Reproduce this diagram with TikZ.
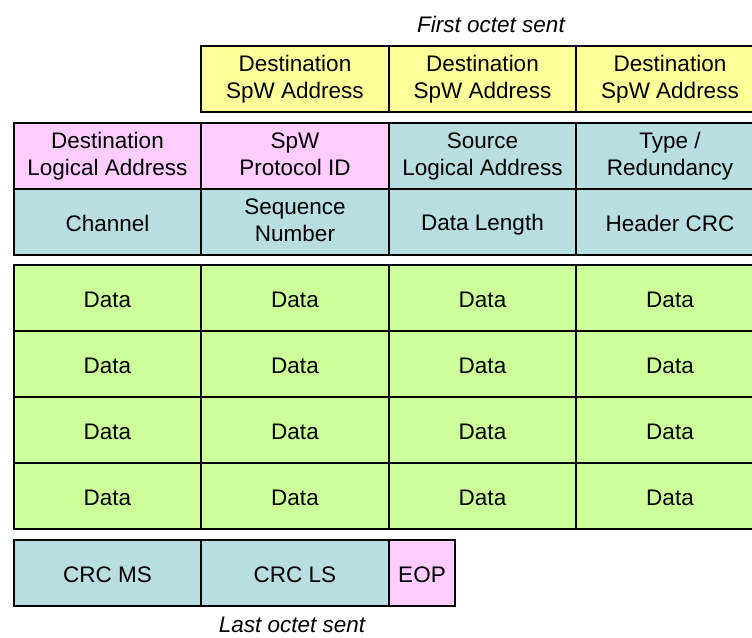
\documentclass[tikz,border=0pt]{standalone}
\usepackage{fontspec}
\setmainfont{Liberation Sans}
\definecolor{addrYellow}{HTML}{FFFF99}
\definecolor{ctrlPink}{HTML}{FFCCFF}
\definecolor{hdrBlue}{HTML}{B9DEE2}
\definecolor{dataGreen}{HTML}{CCFF99}
% invisible rule that centres the capitals of each cell's text
\newcommand{\cellstrut}{\rule[-4pt]{0pt}{26pt}}
\tikzset{
  cell/.style={draw=black, line width=2pt, inner sep=0pt, outer sep=0pt,
    minimum width=187.5pt, minimum height=66pt, align=center,
    font=\fontsize{22.5}{27}\selectfont,
    execute at begin node=\cellstrut, execute at end node=\cellstrut},
  addr/.style={cell, fill=addrYellow},
  ctrl/.style={cell, fill=ctrlPink},
  hdr/.style={cell, fill=hdrBlue},
  datacell/.style={cell, fill=dataGreen},
  note/.style={font=\fontsize{22.5}{27}\selectfont\itshape, inner sep=0pt}
}
\begin{document}
\begin{tikzpicture}[x=1pt, y=-1pt]
\useasboundingbox (0,0) rectangle (752,637);
\clip (0,0) rectangle (752,637);

% first octet label
\node[note] (first) at (491,24) {First octet sent};

% destination SpaceWire addresses
\node[addr] (a2) at (295,79) {Destination\\SpW Address};
\node[addr] (a3) at (482.5,79) {Destination\\SpW Address};
\node[addr] (a4) at (670,79) {Destination\\SpW Address};

% packet header
\node[ctrl] (h1) at (107.5,156) {Destination\\Logical Address};
\node[ctrl] (h2) at (295,156) {SpW\\Protocol ID};
\node[hdr]  (h3) at (482.5,156) {Source\\Logical Address};
\node[hdr]  (h4) at (670,156) {Type /\\Redundancy};
\node[hdr]  (h5) at (107.5,222) {Channel};
\node[hdr]  (h6) at (295,222) {Sequence\\Number};
\node[hdr]  (h7) at (482.5,222) {Data Length};
\node[hdr]  (h8) at (670,222) {Header CRC};

% data field
\foreach \r/\y in {1/298,2/364,3/430,4/496}{
  \node[datacell] (d\r a) at (107.5,\y) {Data};
  \node[datacell] (d\r b) at (295,\y) {Data};
  \node[datacell] (d\r c) at (482.5,\y) {Data};
  \node[datacell] (d\r d) at (670,\y) {Data};
}

% trailer
\node[hdr] (crcms) at (107.5,573) {CRC MS};
\node[hdr] (crcls) at (295,573) {CRC LS};
\node[ctrl, minimum width=66pt] (eop) at (422,573) {EOP};

% last octet label
\node[note] (last) at (292,625) {Last octet sent};
\end{tikzpicture}
\end{document}
